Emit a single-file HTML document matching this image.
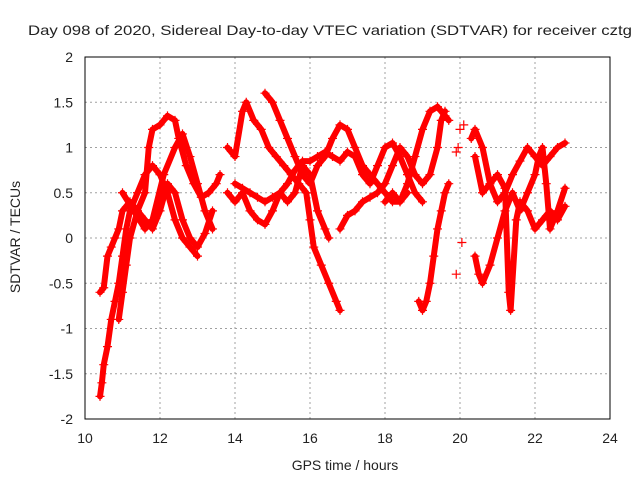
<!DOCTYPE html>
<html><head><meta charset="utf-8"><style>
body{margin:0;background:#fff}
svg text{font-family:"Liberation Sans",sans-serif;fill:#222}
</style></head><body>
<svg id="chart" width="640" height="480" viewBox="0 0 640 480" xmlns="http://www.w3.org/2000/svg">
<rect width="640" height="480" fill="#fff"/>
<g id="grid"></g>
<g id="axes"></g>
<g id="marks"></g>
<text x="28" y="35" font-size="14" textLength="604" lengthAdjust="spacingAndGlyphs">Day 098 of 2020, Sidereal Day-to-day VTEC variation (SDTVAR) for receiver cztg</text>
<text x="345" y="470" font-size="14" text-anchor="middle">GPS time / hours</text>
<text transform="translate(20,237) rotate(-90)" font-size="14" text-anchor="middle">SDTVAR / TECUs</text>
</svg>
<script>
const xTicks=[10,12,14,16,18,20,22,24];
const yTicks=[-2,-1.5,-1,-0.5,0,0.5,1,1.5,2];
const yTickLabels=["-2","-1.5","-1","-0.5","0","0.5","1","1.5","2"];
const trackA=[[10.4,-1.75],[10.45,-1.6],[10.5,-1.4],[10.6,-1.2],[10.7,-0.9],[10.8,-0.7],[10.9,-0.5],[11.0,-0.2],[11.1,0.1],[11.2,0.3],[11.4,0.5],[11.6,0.7],[11.8,0.8],[12.0,0.7],[12.2,0.5],[12.4,0.2],[12.6,0.0],[12.8,-0.1],[13.0,-0.2]];
const trackB=[[10.4,-0.6],[10.5,-0.55],[10.6,-0.2],[10.7,-0.1],[10.8,0.0],[10.9,0.1],[11.0,0.3],[11.2,0.4],[11.4,0.3],[11.6,0.5],[11.7,1.0],[11.8,1.2],[12.0,1.25],[12.2,1.35],[12.4,1.3],[12.5,1.1],[12.7,0.8],[12.9,0.6],[13.1,0.45],[13.3,0.5],[13.5,0.6],[13.6,0.7]];
const trackC=[[10.9,-0.9],[11.0,-0.6],[11.1,-0.3],[11.2,0.0],[11.4,0.3],[11.6,0.2],[11.8,0.1],[12.0,0.3],[12.2,0.6],[12.4,0.5],[12.6,0.2],[12.8,0.0],[13.0,-0.1],[13.2,0.05],[13.4,0.3]];
const trackD=[[11.0,0.5],[11.3,0.3],[11.6,0.1],[11.8,0.2],[12.1,0.7],[12.4,1.0],[12.6,1.15],[12.8,0.9],[13.0,0.6],[13.2,0.3],[13.4,0.1]];
const trackE=[[13.8,1.0],[14.0,0.9],[14.2,1.4],[14.3,1.5],[14.5,1.3],[14.7,1.2],[14.9,1.0],[15.1,0.9],[15.3,0.8],[15.5,0.7],[15.7,0.6],[15.9,0.5],[16.0,0.2],[16.1,-0.1],[16.3,-0.3],[16.5,-0.5],[16.7,-0.7],[16.8,-0.8]];
const trackF=[[13.8,0.5],[14.0,0.4],[14.2,0.5],[14.4,0.3],[14.6,0.2],[14.8,0.15],[15.0,0.3],[15.2,0.5],[15.4,0.4],[15.6,0.5],[15.8,0.8],[16.0,0.7],[16.2,0.3],[16.4,0.1],[16.5,0.0]];
const trackG=[[14.8,1.6],[15.0,1.5],[15.2,1.3],[15.4,1.1],[15.6,0.9],[15.8,0.7],[16.0,0.6],[16.2,0.8],[16.4,0.9],[16.6,1.1],[16.8,1.25],[17.0,1.2],[17.2,1.0],[17.4,0.8],[17.6,0.7],[17.8,0.6],[18.0,0.5],[18.2,0.4],[18.4,0.4],[18.6,0.5]];
const trackH=[[14.0,0.6],[14.2,0.55],[14.4,0.5],[14.6,0.45],[14.8,0.4],[15.0,0.45],[15.2,0.5],[15.4,0.6],[15.6,0.75],[15.8,0.85],[16.0,0.85],[16.2,0.9],[16.4,0.95],[16.6,0.9],[16.8,0.85],[17.0,0.95],[17.2,0.9],[17.4,0.7],[17.6,0.6],[17.8,0.8],[18.0,1.0],[18.2,1.05],[18.4,0.9],[18.6,0.7],[18.8,0.5],[19.0,0.4]];
const trackI=[[16.8,0.1],[17.0,0.25],[17.2,0.3],[17.4,0.4],[17.6,0.45],[17.8,0.5],[18.0,0.6],[18.2,0.8],[18.4,1.0],[18.6,0.9],[18.8,0.7],[19.0,0.6],[19.2,0.7],[19.4,1.0],[19.5,1.3],[19.6,1.4]];
const trackJ=[[18.9,-0.7],[19.0,-0.8],[19.1,-0.7],[19.2,-0.5],[19.3,-0.2],[19.4,0.1],[19.5,0.3],[19.6,0.5],[19.7,0.6]];
const trackK=[[18.0,0.4],[18.2,0.5],[18.4,0.4],[18.6,0.6],[18.8,0.9],[19.0,1.2],[19.2,1.4],[19.4,1.45],[19.6,1.35],[19.7,1.3]];
const trackL=[[20.3,1.1],[20.4,1.2],[20.6,1.0],[20.8,0.6],[21.0,0.4],[21.2,0.5],[21.4,0.7],[21.6,0.85],[21.8,1.0],[22.0,0.9],[22.2,0.8],[22.4,0.9],[22.6,1.0],[22.8,1.05]];
const trackM=[[20.4,-0.2],[20.5,-0.4],[20.6,-0.5],[20.8,-0.3],[21.0,0.0],[21.2,0.3],[21.4,0.5],[21.6,0.3],[21.8,0.5],[22.0,0.7],[22.1,0.9],[22.2,1.0],[22.3,0.6],[22.4,0.1],[22.6,0.3],[22.8,0.55]];
const trackN=[[20.4,0.9],[20.6,0.5],[20.8,0.6],[21.0,0.7],[21.2,0.55],[21.3,-0.6],[21.35,-0.8],[21.5,0.2],[21.6,0.4],[21.8,0.3],[22.0,0.1],[22.2,0.2],[22.4,0.3],[22.6,0.2],[22.8,0.35]];
const scatterPts=[[20.0,1.2],[19.95,1.0],[20.05,-0.05],[19.9,-0.4],[20.1,1.25],[19.9,0.95]];
const tracks=[trackA,trackB,trackC,trackD,trackE,trackF,trackG,trackH,trackI,trackJ,trackK,trackL,trackM,trackN];

const NS="http://www.w3.org/2000/svg";
const L=85,R=610,T=57,B=419;
function sx(v){return L+(v-10)/(24-10)*(R-L);}
function sy(v){return B-(v+2)/4*(B-T);}
function mk(tag,attrs,parent){const e=document.createElementNS(NS,tag);for(const k in attrs)e.setAttribute(k,attrs[k]);parent.appendChild(e);return e;}
const grid=document.getElementById('grid'),axes=document.getElementById('axes'),marks=document.getElementById('marks');
xTicks.forEach(t=>{
  const x=sx(t);
  if(t>10&&t<24){const g=mk('line',{x1:x,x2:x,y1:T,y2:B,stroke:'#a0a0a0','stroke-dasharray':'2,3'},grid);
  
  }
  const tx=mk('text',{x:x,y:B+24,'font-size':14,'text-anchor':'middle'},axes);
  tx.textContent=t;
  
  
});
yTicks.forEach((t,i)=>{
  const y=sy(t);
  if(t>-2&&t<2){const g=mk('line',{x1:L,x2:R,y1:y,y2:y,stroke:'#a0a0a0','stroke-dasharray':'2,3'},grid);
  
  }
  const tx=mk('text',{x:L-12,y:y+5,'font-size':14,'text-anchor':'end'},axes);
  tx.textContent=yTickLabels[i];
  
  
});
const frame=mk('rect',{x:L,y:T,width:R-L,height:B-T,fill:'none',stroke:'#000','stroke-width':1},axes);


function plus(x,y){mk('path',{d:`M${x-4.5},${y}h9M${x},${y-4.5}v9`,stroke:'#f00','stroke-width':1.2},marks);}
tracks.forEach(tr=>{
  const pl=mk('polyline',{points:tr.map(p=>sx(p[0])+','+sy(p[1])).join(' '),fill:'none',stroke:'#f00','stroke-width':6,'stroke-linejoin':'round','stroke-linecap':'round'},marks);
  
  
  tr.forEach(p=>plus(sx(p[0]),sy(p[1])));
});
scatterPts.forEach(p=>plus(sx(p[0]),sy(p[1])));
</script>
</body></html>
